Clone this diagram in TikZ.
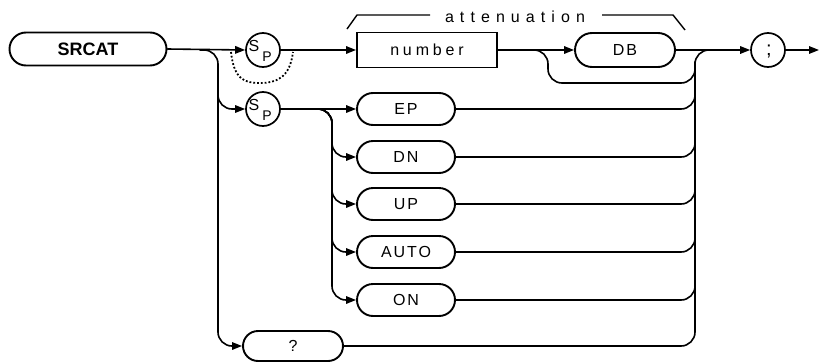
\documentclass[tikz,border=0pt]{standalone}
\usepackage{fontspec}
\setmainfont{Liberation Sans}
\newfontfamily\capsfont[LetterSpace=12]{Liberation Sans}
\newfontfamily\lowfont[LetterSpace=24]{Liberation Sans}
\newfontfamily\widefont[LetterSpace=38]{Liberation Sans}
\usetikzlibrary{arrows.meta,shapes.misc,positioning}
\begin{document}
\begin{tikzpicture}[x=1pt,y=-1pt,
  conn/.style={line width=1.6pt,line cap=round},
  arr/.style={conn,-{Triangle[length=10pt,width=7.5pt]}},
  keyw/.style={rounded rectangle,draw,line width=1.9pt,minimum width=98pt,minimum height=32pt,inner sep=0pt,font=\capsfont\fontsize{16}{18}\selectfont},
  circ/.style={circle,draw,line width=1.7pt,minimum size=34pt,inner sep=0pt},
  brk/.style={line width=1.4pt}]
\useasboundingbox (0,0) rectangle (820,362);
% main nodes
\node[rounded rectangle,draw,line width=1.9pt,minimum width=157pt,minimum height=33pt,inner sep=0pt,font=\bfseries\fontsize{18}{20}\selectfont] (srcat) at (88,49) {SRCAT};
\node[circ] (c1) at (263,50) {};
\node[font=\fontsize{16}{16}\selectfont,inner sep=0pt] (c1s) at (254,46) {S};
\node[font=\fontsize{14}{14}\selectfont,inner sep=0pt] (c1p) at (267,57) {P};
\node[draw,rectangle,line width=1.9pt,minimum width=140pt,minimum height=35pt,inner sep=0pt,font=\lowfont\fontsize{16}{18}\selectfont] (num) at (427,50) {number};
\node[keyw,minimum width=100pt,minimum height=34pt] (db) at (625,50) {DB};
\node[circ] (semi) at (768,50) {};
\node[font=\fontsize{20}{20}\selectfont,inner sep=0pt] (semit) at (769,51) {;};
\coordinate (endpt) at (819,50);
% second Sp
\node[circ] (c2) at (263,109) {};
\node[font=\fontsize{16}{16}\selectfont,inner sep=0pt] (c2s) at (254,105) {S};
\node[font=\fontsize{14}{14}\selectfont,inner sep=0pt] (c2p) at (267,116) {P};
\node[keyw] (ep) at (406,109) {EP};
\node[keyw] (dn) at (406,157) {DN};
\node[keyw] (up) at (406,204) {UP};
\node[keyw] (auto) at (406,252) {AUTO};
\node[keyw] (on) at (406,300) {ON};
\node[keyw,minimum width=100pt,minimum height=30pt] (q) at (293,346) {?};
% attenuation bracket
\node[font=\widefont\fontsize{16}{18}\selectfont,inner sep=0pt] (att) at (515,17) {attenuation};
\coordinate (bl1) at (347,29);
\coordinate (bl2) at (357,15);
\coordinate (bl3) at (430,15);
\coordinate (br1) at (602,15);
\coordinate (br2) at (673,15);
\coordinate (br3) at (685,30);
\draw[brk] (bl1) -- (bl2) -- (bl3);
\draw[brk] (br1) -- (br2) -- (br3);
% main line
\draw[arr] (srcat.east) -- (c1.west);
\draw[arr] (c1.east) -- (num.west);
\draw[arr] (num.east) -- (db.west);
\draw[arr] (db.east) -- (semi.west);
\draw[arr] (semi.east) -- (endpt);
% dotted bypass of first Sp
\coordinate (d1) at (231,52);
\coordinate (d2) at (260,83);
\coordinate (d3) at (293,52);
\draw[line width=1.8pt,dotted] (d1) .. controls (234,80) and (245,83) .. (d2) .. controls (276,83) and (290,78) .. (d3);
% DB bypass
\coordinate (b1) at (528,50);
\coordinate (b2) at (548,50);
\coordinate (b3) at (548,83);
\coordinate (b4) at (695,83);
\coordinate (b5) at (695,62);
\draw[conn,rounded corners=14pt] (b1) -- (b2) -- (b3) -- (b4) -- (b5);
% left branch
\coordinate (l1) at (200,50);
\coordinate (l2) at (218,50);
\coordinate (l3) at (218,109);
\coordinate (l4) at (218,346);
\draw[arr,rounded corners=14pt] (l1) -- (l2) -- (l3) -- (c2.west);
\draw[arr,rounded corners=14pt] (218,95) -- (l4) -- (q.west);
% Sp2 branch
\draw[arr] (c2.east) -- (ep.west);
\coordinate (s1) at (314,109);
\coordinate (s2) at (332,109);
\foreach \n/\yy in {dn/157,up/204,auto/252,on/300}{
  \draw[arr,rounded corners=14pt] (s1) -- (s2) -- (332,\yy) -- (\n.west);
}
% collector
\coordinate (r0) at (695,50);
\coordinate (r1) at (715,50);
\coordinate (rq) at (695,346);
\draw[conn,rounded corners=14pt] (q.east) -- (rq) -- (r0) -- (r1);
\foreach \n/\yy in {ep/109,dn/157,up/204,auto/252,on/300}{
  \draw[conn,rounded corners=14pt] (\n.east) -- (695,\yy) -- (695,\yy-25);
}
\end{tikzpicture}
\end{document}
